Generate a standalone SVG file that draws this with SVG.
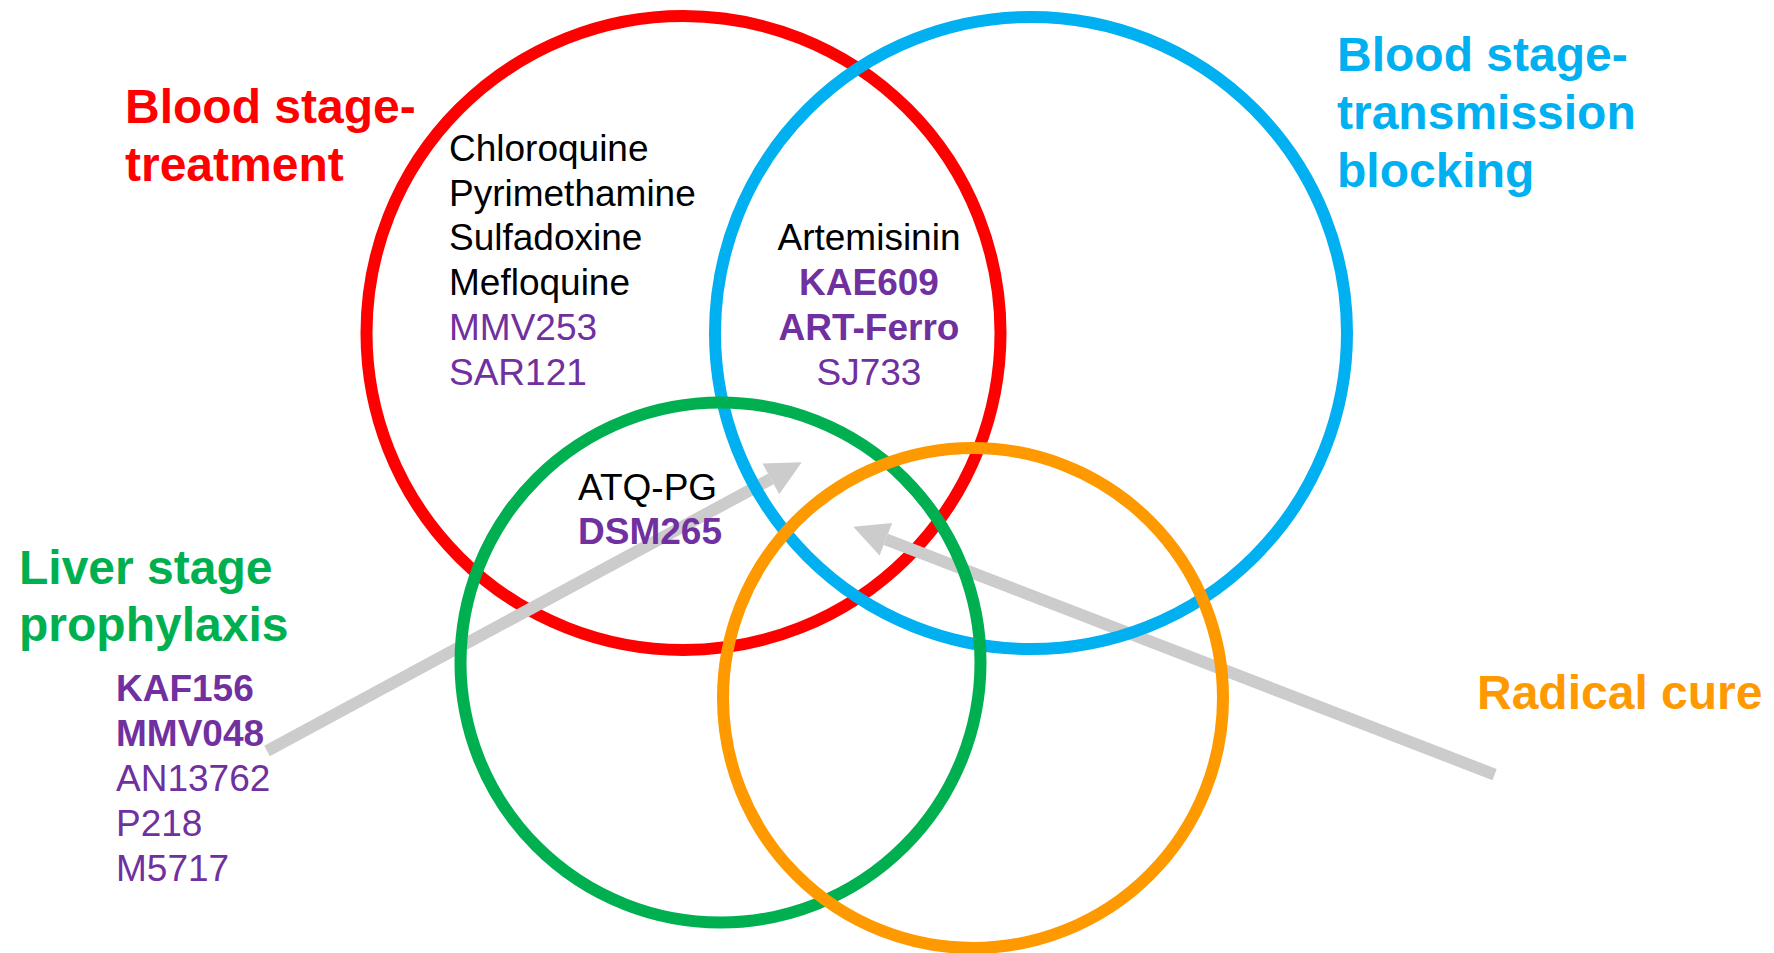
<svg xmlns="http://www.w3.org/2000/svg" width="1774" height="953" viewBox="0 0 1774 953">
<style>
.ring{fill:none;stroke-width:12}
.lbl{font-family:"Liberation Sans",Arial,sans-serif;font-weight:bold;font-size:48px}
.drug{font-family:"Liberation Sans",Arial,sans-serif;font-size:37px;fill:#000}
.p{fill:#7030A0}
.b{font-weight:bold}
.conn{stroke:#CCCCCC;stroke-width:12;fill:none}
</style>
<defs>
<marker id="ah" markerUnits="userSpaceOnUse" markerWidth="36" markerHeight="36" viewBox="0 0 36 36" refX="0" refY="17.5" orient="auto" overflow="visible">
<path d="M0,0 L35,17.5 L0,35 Z" fill="#CCCCCC"/>
</marker>
</defs>
<rect width="1774" height="953" fill="#fff"/>
<g id="blood-treatment">
<circle class="ring" cx="683.5" cy="333" r="317" stroke="#FF0000"/>
<text class="lbl" fill="#FF0000"><tspan x="125" y="123">Blood stage-</tspan><tspan x="125" y="181">treatment</tspan></text>
<text class="drug"><tspan x="449" y="161">Chloroquine</tspan><tspan x="449" y="206">Pyrimethamine</tspan><tspan x="449" y="250">Sulfadoxine</tspan><tspan x="449" y="295">Mefloquine</tspan><tspan x="449" y="340" class="p">MMV253</tspan><tspan x="449" y="385" class="p">SAR121</tspan></text>
</g>
<g id="connectors">
<line class="conn" x1="267" y1="751" x2="770.9" y2="478.9" marker-end="url(#ah)"/>
<line class="conn" x1="1494.6" y1="774.6" x2="885.9" y2="539.3" marker-end="url(#ah)"/>
</g>
<g id="blood-transmission">
<circle class="ring" cx="1031" cy="333" r="316" stroke="#00B0F0"/>
<text class="lbl" fill="#00B0F0"><tspan x="1337" y="71">Blood stage-</tspan><tspan x="1337" y="129">transmission</tspan><tspan x="1337" y="187">blocking</tspan></text>
<text class="drug" text-anchor="middle"><tspan x="869" y="250">Artemisinin</tspan><tspan x="869" y="295" class="p b">KAE609</tspan><tspan x="869" y="340" class="p b">ART-Ferro</tspan><tspan x="869" y="385" class="p">SJ733</tspan></text>
</g>
<g id="liver-prophylaxis">
<circle class="ring" cx="720.5" cy="662.5" r="260" stroke="#00B050"/>
<text class="lbl" fill="#00B050"><tspan x="19" y="584">Liver stage</tspan><tspan x="19" y="641">prophylaxis</tspan></text>
<text class="drug"><tspan x="578" y="500">ATQ-PG</tspan><tspan x="578" y="544" class="p b">DSM265</tspan></text>
<text class="drug p"><tspan x="116" y="701" class="b">KAF156</tspan><tspan x="116" y="746" class="b">MMV048</tspan><tspan x="116" y="791">AN13762</tspan><tspan x="116" y="836">P218</tspan><tspan x="116" y="881">M5717</tspan></text>
</g>
<g id="radical-cure">
<circle class="ring" cx="973" cy="698" r="250" stroke="#FF9900"/>
<text class="lbl" fill="#FF9900" x="1477" y="709">Radical cure</text>
</g>
</svg>
